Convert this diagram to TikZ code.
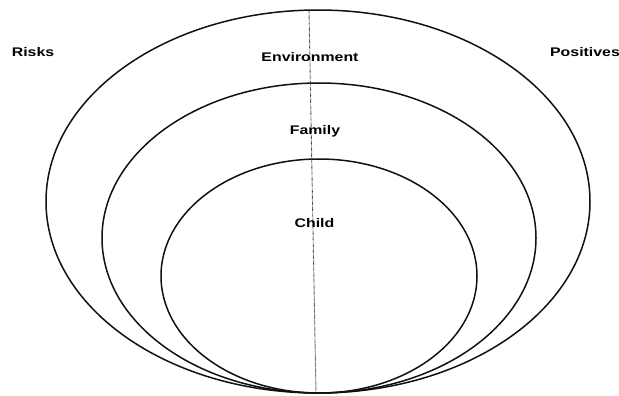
\documentclass[tikz,border=0pt]{standalone}
\usepackage{fontspec}
\setmainfont{Liberation Sans}
\usepackage{graphicx}
\usetikzlibrary{shapes.geometric}
\definecolor{RingInk}{HTML}{111111}
\definecolor{AxisGrey}{HTML}{333333}
\newcommand{\widetext}[1]{\scalebox{1.27}[1]{#1}}

\begin{document}
\begin{tikzpicture}[x=1pt,y=-1pt,
    every node/.style={font=\bfseries\fontsize{12.5}{14}\selectfont},
    ring/.style={draw=RingInk,line width=1.5pt,ellipse,inner sep=0pt}]
  \useasboundingbox (0,0) rectangle (619,396);
  \node[ring,minimum width=544pt,minimum height=383pt] (environment) at (318,201.5) {};
  \node[ring,minimum width=434pt,minimum height=310pt] (family) at (319,238) {};
  \node[ring,minimum width=316pt,minimum height=234pt] (child) at (319,276) {};
  \coordinate (axtop) at (309,10);
  \coordinate (axbot) at (316,393);
  \draw[AxisGrey,line width=.9pt,dash pattern=on .6pt off .6pt] (axtop) -- (axbot);
  \node[anchor=base] (envlabel) at (310,62) {\widetext{Environment}};
  \node[anchor=base] (famlabel) at (315,134) {\widetext{Family}};
  \node[anchor=base] (childlabel) at (314.5,227) {\widetext{Child}};
  \node[anchor=base] (risks) at (33,57) {\widetext{Risks}};
  \node[anchor=base] (positives) at (585,57) {\widetext{Positives}};
\end{tikzpicture}
\end{document}
